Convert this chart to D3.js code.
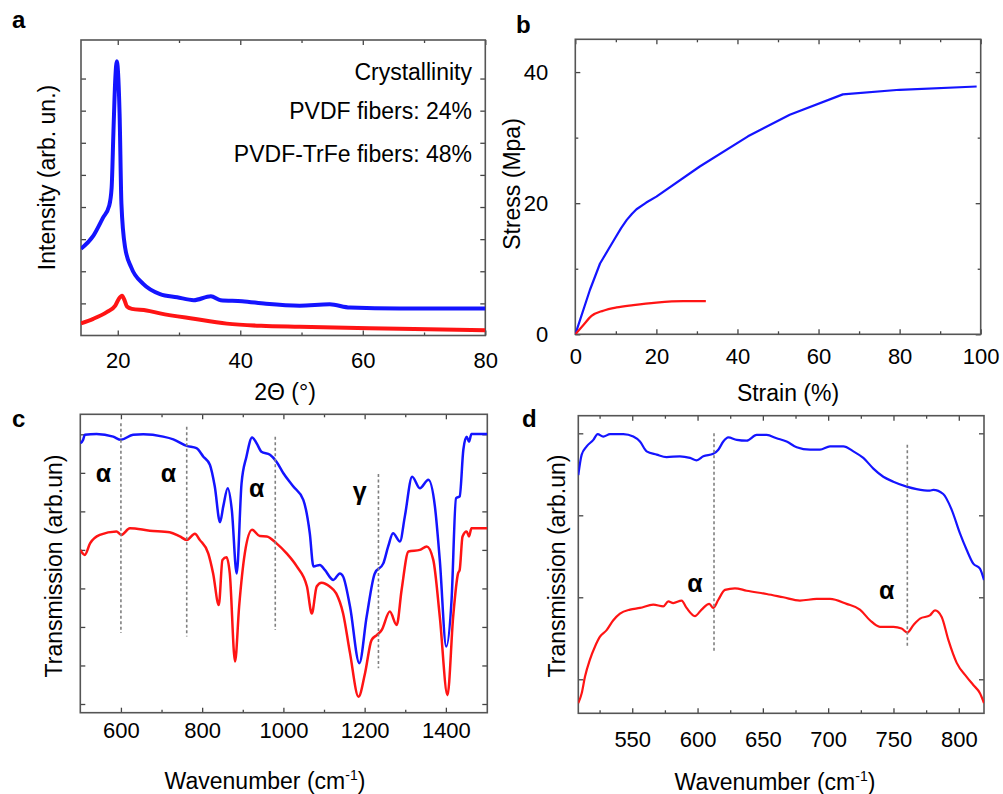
<!DOCTYPE html>
<html>
<head>
<meta charset="utf-8">
<script src="https://cdn.jsdelivr.net/npm/d3@7"></script>
<style>
body { margin: 0; background: #fff; }
text { font-family: "Liberation Sans", Arial, sans-serif; fill: #000; }
</style>
</head>
<body>
<script>
// ---- a: XRD ----
var xrdThetaTrfe = [14, 16, 17.6, 18.6, 19.0, 19.3, 19.6, 19.85, 20.1, 20.3, 20.6, 21.2, 22.2, 24.2, 26.9, 29.7, 32.4, 35.2, 36.8, 40.3, 44.2, 49.7, 54.6, 57.9, 66, 80];
var xrdTrfe = [2.7, 3.1, 3.67, 4.04, 4.6, 6.37, 8.0, 8.54, 8.0, 6.9, 4.1, 2.74, 2.12, 1.6, 1.29, 1.19, 1.1, 1.22, 1.1, 1.07, 0.99, 0.93, 0.97, 0.87, 0.84, 0.84];
var xrdThetaPvdf = [14, 16, 18.2, 19.6, 20.2, 20.7, 21.1, 21.5, 22.3, 24.7, 26.9, 32.4, 37.8, 43.4, 49.7, 66, 80];
var xrdPvdf = [0.38, 0.52, 0.73, 0.93, 1.15, 1.24, 1.1, 0.9, 0.83, 0.78, 0.69, 0.52, 0.37, 0.3, 0.27, 0.21, 0.16];
var crystText = ["Crystallinity", "PVDF fibers: 24%", "PVDF-TrFe fibers: 48%"];

// ---- b: stress-strain ----
var strainTrfe = [0, 3.6, 6.1, 9.8, 11.3, 12.7, 14.0, 15.1, 17.5, 20, 30.7, 42.6, 52.9, 66, 80, 99];
var stressTrfe = [0, 6.76, 10.8, 14.65, 16.2, 17.45, 18.4, 19.08, 20.1, 21.0, 25.6, 30.2, 33.5, 36.6, 37.3, 37.8];
var strainPvdf = [0, 2, 4, 6.9, 10.2, 14.3, 20, 26.6, 32.2];
var stressPvdf = [0, 1.42, 2.8, 3.6, 4.1, 4.45, 4.83, 5.05, 5.05];

// ---- c: FTIR full range ----
var ftirWnTrfe = [500, 507, 511, 540, 581, 600, 630, 655, 704, 729, 762, 786, 803, 819, 831, 844, 852, 863, 873, 885, 897, 909, 923, 934, 946, 967, 983, 1000, 1024, 1049, 1065, 1074, 1090, 1102, 1123, 1139, 1147, 1164, 1187, 1205, 1225, 1246, 1258, 1270, 1287, 1299, 1317, 1336, 1357, 1373, 1385, 1401, 1414, 1425, 1434, 1443, 1451, 1457, 1463, 1502];
var ftirTrfe = [6.77, 6.86, 6.99, 7.01, 6.94, 6.86, 6.99, 7.0, 6.94, 6.87, 6.70, 6.64, 6.42, 6.21, 5.65, 4.72, 5.13, 5.6, 5.04, 3.39, 5.73, 6.42, 6.92, 6.77, 6.55, 6.47, 6.29, 5.99, 5.65, 5.30, 4.43, 3.57, 3.61, 3.48, 3.22, 3.39, 3.31, 2.53, 1.06, 2.27, 3.39, 3.65, 4.09, 4.43, 4.22, 4.87, 5.90, 5.60, 5.82, 5.13, 3.74, 1.49, 2.70, 5.34, 5.39, 6.60, 6.94, 6.81, 7.01, 7.01];
var ftirWnPvdf = [500, 511, 524, 548, 589, 601, 622, 671, 720, 745, 762, 782, 794, 815, 827, 841, 850, 860, 868, 881, 891, 905, 923, 942, 959, 983, 1008, 1033, 1058, 1070, 1082, 1094, 1114, 1130, 1147, 1164, 1185, 1201, 1217, 1230, 1242, 1262, 1279, 1291, 1308, 1336, 1353, 1369, 1385, 1404, 1418, 1430, 1434, 1441, 1451, 1457, 1463, 1502];
var ftirPvdf = [4.0, 3.87, 4.17, 4.39, 4.48, 4.39, 4.56, 4.50, 4.46, 4.35, 4.26, 4.42, 4.26, 3.91, 3.39, 2.57, 3.74, 3.81, 3.39, 1.10, 2.53, 3.91, 4.52, 4.36, 4.35, 4.17, 3.91, 3.57, 3.05, 2.35, 3.05, 3.15, 3.05, 2.87, 2.35, 1.32, 0.19, 0.80, 1.66, 1.79, 1.92, 2.40, 2.05, 2.96, 3.96, 4.0, 4.09, 3.74, 2.27, 0.23, 2.27, 3.39, 3.48, 4.35, 4.48, 4.35, 4.56, 4.56];
var bandWnC = [600, 762, 980, 1234];
var bandTopC = [7.29, 7.2, 6.94, 5.97];
var bandBotC = [1.84, 1.75, 1.92, 0.93];
var phaseC = ["α", "α", "α", "γ"];
var phaseWnC = [557, 717, 934, 1188];
var phaseValC = [5.95, 5.95, 5.56, 5.5];

// ---- d: FTIR zoom ----
var zoomWnTrfe = [508.7, 511.3, 515.1, 520.2, 523.5, 527.8, 533, 543.2, 550.8, 555.9, 561, 568.7, 576.3, 586.5, 594.2, 599.3, 604.4, 612, 615.9, 619.7, 623.5, 630, 637.6, 645.2, 652.9, 660.5, 668.2, 675.9, 686.1, 693.7, 701.4, 711.6, 719.3, 726.9, 734.6, 742.2, 749.9, 760.1, 767.7, 777.9, 780.5, 788.1, 794.5, 800.9, 806, 811.1, 816.2, 819.3];
var zoomTrfe = [2.49, 2.74, 2.84, 2.92, 2.99, 2.96, 2.99, 2.99, 2.96, 2.90, 2.78, 2.74, 2.71, 2.72, 2.70, 2.67, 2.72, 2.75, 2.80, 2.90, 2.95, 2.92, 2.91, 2.98, 2.98, 2.94, 2.90, 2.83, 2.80, 2.80, 2.84, 2.84, 2.78, 2.70, 2.57, 2.47, 2.41, 2.35, 2.32, 2.30, 2.31, 2.26, 2.07, 1.78, 1.58, 1.41, 1.35, 1.21];
var zoomWnPvdf = [508.7, 511.3, 513.8, 517.6, 521.5, 525.3, 530.4, 535.5, 540.6, 548.3, 555.9, 566.1, 573.8, 577.6, 581.4, 587.8, 591.6, 598, 603.1, 609, 612, 615.9, 621, 628.6, 637.6, 652.9, 665.6, 678.4, 691.2, 701.4, 714.1, 724.3, 732, 739.6, 749.9, 756.2, 760.6, 765.2, 770.3, 777.9, 781.8, 786.9, 792, 798.4, 806, 811.1, 816.2, 819.3];
var zoomPvdf = [-0.29, -0.17, 0.03, 0.24, 0.40, 0.52, 0.60, 0.72, 0.80, 0.85, 0.87, 0.91, 0.89, 0.95, 0.93, 0.96, 0.87, 0.77, 0.85, 0.92, 0.87, 0.97, 1.09, 1.11, 1.08, 1.04, 1.0, 0.96, 0.98, 0.98, 0.92, 0.85, 0.72, 0.64, 0.64, 0.62, 0.57, 0.66, 0.74, 0.78, 0.84, 0.76, 0.48, 0.20, 0.03, -0.07, -0.17, -0.29];
var bandWnD = [612.6, 760.6];
var bandTopD = [3.0, 2.86];
var bandBotD = [0.32, 0.38];
var phaseD = ["α", "α"];
var phaseWnD = [598, 744.8];
var phaseValD = [1.15, 1.07];

var FONT = '"Liberation Sans", Arial, sans-serif';
var BLUE = "#1414ff", RED = "#ff1414";

var svg = d3.select("body").append("svg")
    .attr("width", 1003)
    .attr("height", 794);

var clipId = 0;

// frame + inward ticks on all four sides
function panel(x, y, cfg) {
    var g = svg.append("g");
    var xl = x.range()[0], xr = x.range()[1], yb = y.range()[0], yt = y.range()[1];

    function ax(fn, scale, vals, size, labels, pad, tx, ty) {
        var a = fn(scale).tickValues(vals).tickSize(size).tickPadding(pad || 3)
            .tickFormat(labels ? d3.format("d") : "");
        var gg = g.append("g")
            .attr("transform", "translate(" + tx + "," + ty + ")")
            .call(a)
            .attr("font-size", 22)
            .attr("font-family", FONT);
        gg.select(".domain").remove();
        gg.selectAll("line").attr("stroke", "#444").attr("stroke-width", 1.3);
        gg.selectAll("text").attr("fill", "#000");
    }

    ax(d3.axisBottom, x, cfg.xMajor, -5, true, cfg.xPad, 0, yb);
    ax(d3.axisTop, x, cfg.xMajor, -5, false, 3, 0, yt);
    if (cfg.xMinor) {
        ax(d3.axisBottom, x, cfg.xMinor, -3, false, 3, 0, yb);
        ax(d3.axisTop, x, cfg.xMinor, -3, false, 3, 0, yt);
    }
    ax(d3.axisLeft, y, cfg.yMajor, -5, cfg.yLabels, cfg.yPad, xl, 0);
    ax(d3.axisRight, y, cfg.yMajor, -5, false, 3, xr, 0);
    if (cfg.yMinor) {
        ax(d3.axisLeft, y, cfg.yMinor, -3, false, 3, xl, 0);
        ax(d3.axisRight, y, cfg.yMinor, -3, false, 3, xr, 0);
    }

    g.append("rect")
        .attr("x", xl).attr("y", yt)
        .attr("width", xr - xl).attr("height", yb - yt)
        .attr("fill", "none")
        .attr("stroke", "#555")
        .attr("stroke-width", 1.6);

    clipId++;
    svg.append("clipPath").attr("id", "clip" + clipId)
        .append("rect")
        .attr("x", xl).attr("y", yt)
        .attr("width", xr - xl).attr("height", yb - yt);
    var plot = svg.append("g").attr("clip-path", "url(#clip" + clipId + ")");

    // titles
    var xt = svg.append("text")
        .attr("x", cfg.xTitle[0]).attr("y", cfg.xTitle[1])
        .attr("text-anchor", "middle")
        .attr("font-size", 23)
        .text(cfg.xTitle[2]);
    if (cfg.xSup) {
        xt.append("tspan").attr("font-size", 14).attr("dy", -9).text(cfg.xSup);
        xt.append("tspan").attr("dy", 9).text(")");
    }
    svg.append("text")
        .attr("transform", "translate(" + cfg.yTitle[0] + "," + cfg.yTitle[1] + ") rotate(-90)")
        .attr("text-anchor", "middle")
        .attr("font-size", 23)
        .text(cfg.yTitle[2]);
    svg.append("text")
        .attr("x", cfg.letter[0]).attr("y", cfg.letter[1])
        .attr("font-size", 24)
        .attr("font-weight", "bold")
        .text(cfg.letter[2]);
    return plot;
}

function curve(plot, x, y, xs, ys, color, width, shape) {
    plot.append("path")
        .datum(d3.zip(xs, ys))
        .attr("fill", "none")
        .attr("stroke", color)
        .attr("stroke-width", width)
        .attr("stroke-linejoin", "round")
        .attr("d", d3.line()
            .x(function(d) { return x(d[0]); })
            .y(function(d) { return y(d[1]); })
            .curve(shape || d3.curveMonotoneX));
}

function bands(x, y, wn, top, bot, labels, lwn, lval) {
    for (var i = 0; i < wn.length; i++) {
        svg.append("line")
            .attr("x1", x(wn[i])).attr("x2", x(wn[i]))
            .attr("y1", y(top[i])).attr("y2", y(bot[i]))
            .attr("stroke", "#808080")
            .attr("stroke-width", 1.6)
            .attr("stroke-dasharray", "3,2.5");
    }
    for (var j = 0; j < labels.length; j++) {
        svg.append("text")
            .attr("x", x(lwn[j])).attr("y", y(lval[j]))
            .attr("dy", "0.3em")
            .attr("text-anchor", "middle")
            .attr("font-size", 25)
            .attr("font-weight", "bold")
            .text(labels[j]);
    }
}

// ---- panel a ----
var xa = d3.scaleLinear().domain([14, 80]).range([81, 485.3]);
var ya = d3.scaleLinear().domain([0, 9.2]).range([335.5, 40]);
var pa = panel(xa, ya, {
    xMajor: [20, 40, 60, 80], xMinor: [30, 50, 70], xPad: 17,
    yMajor: [1, 2, 3, 4, 5, 6, 7, 8], yLabels: false,
    xTitle: [285, 400, "2Θ (°)"],
    yTitle: [55, 177.5, "Intensity (arb. un.)"],
    letter: [12, 28, "a"]
});
curve(pa, xa, ya, xrdThetaPvdf, xrdPvdf, RED, 4);
curve(pa, xa, ya, xrdThetaTrfe, xrdTrfe, BLUE, 4);
svg.selectAll("text.cryst")
    .data(crystText)
    .enter()
    .append("text")
    .attr("class", "cryst")
    .attr("x", 472)
    .attr("y", function(d, i) { return [80, 118.5, 162][i]; })
    .attr("text-anchor", "end")
    .attr("font-size", 23)
    .text(function(d) { return d; });

// ---- panel b ----
var xb = d3.scaleLinear().domain([0, 100]).range([575.3, 980.7]);
var yb = d3.scaleLinear().domain([0, 45]).range([334.3, 39.3]);
var pb = panel(xb, yb, {
    xMajor: [0, 20, 40, 60, 80, 100], xMinor: [10, 30, 50, 70, 90], xPad: 14.5,
    yMajor: [0, 20, 40], yMinor: [10, 30], yLabels: true, yPad: 27,
    xTitle: [788, 401, "Strain (%)"],
    yTitle: [520, 184, "Stress (Mpa)"],
    letter: [516, 33, "b"]
});
curve(pb, xb, yb, strainTrfe, stressTrfe, BLUE, 2.2, d3.curveLinear);
curve(pb, xb, yb, strainPvdf, stressPvdf, RED, 2.2);

// ---- panel c ----
var xc = d3.scaleLinear().domain([500, 1502]).range([80.3, 487.3]);
var yc = d3.scaleLinear().domain([-0.226, 7.52]).range([712.7, 414.3]);
var pc = panel(xc, yc, {
    xMajor: [600, 800, 1000, 1200, 1400], xMinor: [700, 900, 1100, 1300], xPad: 10,
    yMajor: [0, 1, 2, 3, 4, 5, 6, 7], yLabels: false,
    xTitle: [265, 789, "Wavenumber (cm"], xSup: "-1",
    yTitle: [61.5, 566, "Transmission (arb.un)"],
    letter: [12, 427, "c"]
});
curve(pc, xc, yc, ftirWnTrfe, ftirTrfe, BLUE, 2.5);
curve(pc, xc, yc, ftirWnPvdf, ftirPvdf, RED, 2.5);
bands(xc, yc, bandWnC, bandTopC, bandBotC, phaseC, phaseWnC, phaseValC);

// ---- panel d ----
var xd = d3.scaleLinear().domain([508.7, 819.3]).range([578.3, 984]);
var yd = d3.scaleLinear().domain([-0.415, 3.215]).range([713.3, 415.7]);
var pd = panel(xd, yd, {
    xMajor: [550, 600, 650, 700, 750, 800], xMinor: [525, 575, 625, 675, 725, 775], xPad: 18,
    yMajor: [0, 1, 2, 3], yLabels: false,
    xTitle: [775, 790, "Wavenumber (cm"], xSup: "-1",
    yTitle: [565, 566, "Transmission (arb.un)"],
    letter: [522, 427, "d"]
});
curve(pd, xd, yd, zoomWnTrfe, zoomTrfe, BLUE, 2.2);
curve(pd, xd, yd, zoomWnPvdf, zoomPvdf, RED, 2.2);
bands(xd, yd, bandWnD, bandTopD, bandBotD, phaseD, phaseWnD, phaseValD);
</script>
</body>
</html>
